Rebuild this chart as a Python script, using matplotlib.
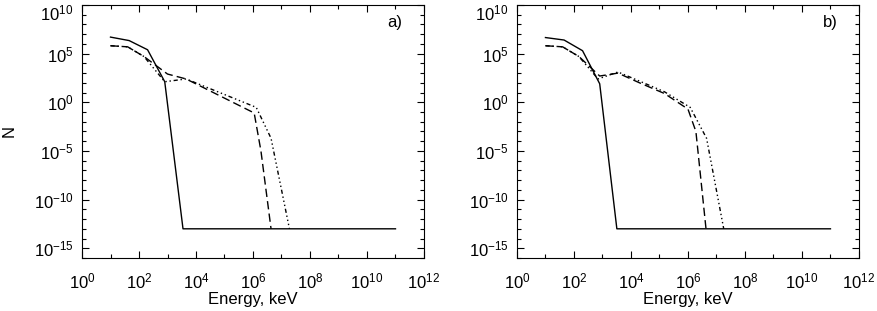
import numpy as np
import matplotlib.pyplot as plt
import matplotlib.transforms as mtransforms
from matplotlib.ticker import FixedLocator, NullFormatter

plt.rcParams['font.family'] = ['Liberation Sans', 'DejaVu Sans']
plt.rcParams['mathtext.default'] = 'regular'

# panel a)
a_solid_x = [10, 45, 200, 800, 3500, 1e11]
a_solid_y = [5e6, 2.2e6, 2.5e5, 1.3e2, 1e-13, 1e-13]
a_dash_x = [10, 40, 150, 1000, 4500, 1.1e6, 1.9e6, 4.3e6]
a_dash_y = [6.5e5, 5e5, 5e4, 8e2, 2.5e2, 0.08, 1e-5, 1e-13]
a_dot_x = [10, 40, 150, 800, 4500, 1.3e6, 4.3e6, 1.9e7]
a_dot_y = [6.5e5, 5e5, 5e4, 1.3e2, 2.5e2, 0.3, 2e-4, 1e-13]

# panel b)
b_solid_x = [10, 45, 200, 800, 3200, 1e11]
b_solid_y = [4.5e6, 2.5e6, 2e5, 80, 1e-13, 1e-13]
b_dash_x = [10, 40, 150, 800, 3500, 2e4, 1.5e5, 1e6, 1.9e6, 4.3e6]
b_dash_y = [6.5e5, 5e5, 5e4, 5e2, 1e3, 1e2, 8, 0.2, 1e-3, 1e-13]
b_dot_x = [10, 40, 150, 700, 3500, 2e4, 1.5e5, 1.2e6, 4.5e6, 1.8e7]
b_dot_y = [6.5e5, 5e5, 5e4, 2.5e2, 1.3e3, 1.5e2, 12, 0.3, 2e-4, 1e-13]

xticks = [1e0, 1e2, 1e4, 1e6, 1e8, 1e10, 1e12]
xtick_labels = ['$10^{0}$', '$10^{2}$', '$10^{4}$', '$10^{6}$', '$10^{8}$', '$10^{10}$', '$10^{12}$']
yticks = [1e-15, 1e-10, 1e-5, 1e0, 1e5, 1e10]
ytick_labels = ['$10^{-15}$', '$10^{-10}$', '$10^{-5}$', '$10^{0}$', '$10^{5}$', '$10^{10}$']

dash = (0, (6, 3))
dot = (0, (3, 2, 1, 2, 1, 2, 1, 2))

fig = plt.figure(figsize=(8.78, 3.11), dpi=100)
ax_a = fig.add_axes([0.0934, 0.1704, 0.3895, 0.8136])
ax_b = fig.add_axes([0.5888, 0.1704, 0.3895, 0.8136])

panels = [
    (ax_a, 'a)', a_solid_x, a_solid_y, a_dash_x, a_dash_y, a_dot_x, a_dot_y),
    (ax_b, 'b)', b_solid_x, b_solid_y, b_dash_x, b_dash_y, b_dot_x, b_dot_y),
]

for ax, tag, sx, sy, dx, dy, px, py in panels:
    ax.plot(sx, sy, color='black', lw=1.0, ls='-')
    ax.plot(dx, dy, color='black', lw=1.0, ls=dash)
    ax.plot(px, py, color='black', lw=1.0, ls=dot)
    ax.set_xscale('log')
    ax.set_yscale('log')
    ax.set_xlim(1, 1e12)
    ax.set_ylim(1e-16, 1e10)
    ax.xaxis.set_major_locator(FixedLocator(xticks))
    ax.set_xticklabels(xtick_labels)
    ax.xaxis.set_minor_locator(FixedLocator([10.0 ** k for k in range(1, 12, 2)]))
    ax.xaxis.set_minor_formatter(NullFormatter())
    ax.yaxis.set_major_locator(FixedLocator(yticks))
    ax.set_yticklabels(ytick_labels)
    ax.yaxis.set_minor_locator(FixedLocator([10.0 ** k for k in range(-16, 11) if k % 5 != 0]))
    ax.yaxis.set_minor_formatter(NullFormatter())
    ax.tick_params(which='both', direction='in', top=True, right=True, labelsize=12, colors='black')
    ax.tick_params(which='major', length=5, width=0.8)
    ax.tick_params(axis='y', which='major', pad=6)
    ax.tick_params(axis='x', which='major', pad=10)
    ax.tick_params(which='minor', length=3, width=0.8)
    for sp in ax.spines.values():
        sp.set_linewidth(0.8)
    ax.set_xlabel('Energy, keV', fontsize=12, labelpad=0)
    ax.text(0.915, 0.93, tag, transform=ax.transAxes, fontsize=12, ha='center', va='center')
    # top label sits a little lower so it stays inside the figure
    top = ax.get_yticklabels()[-1]
    top.set_transform(top.get_transform() + mtransforms.ScaledTranslation(0, -7 / 100, fig.dpi_scale_trans))

ax_a.set_ylabel('N', fontsize=12, labelpad=12)

fig.savefig('out.png', dpi=100)
